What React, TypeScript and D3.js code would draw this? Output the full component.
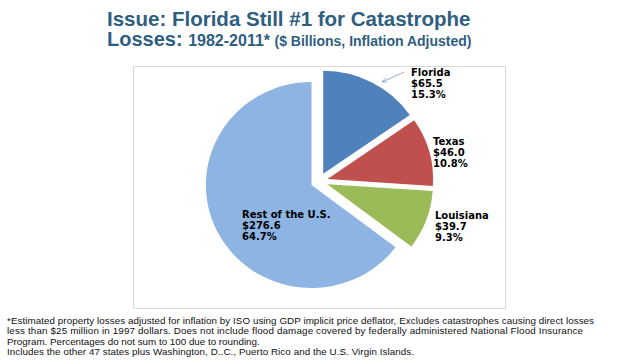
import { useEffect, useRef } from "react";
import * as d3 from "d3";

const states = ["Florida", "Texas", "Louisiana", "Rest of the U.S."];
const losses = [65.5, 46.0, 39.7, 276.6];
const colors = ["#4F81BD", "#C0504D", "#9BBB59", "#8DB4E2"];

const titleLine1 = "Issue: Florida Still #1 for Catastrophe";
const titleLine2 = ["Losses: ", "1982-2011* ", "($ Billions, Inflation Adjusted)"];

const footnotes = [
  "*Estimated property losses adjusted for inflation by ISO using GDP implicit price deflator, Excludes catastrophes causing direct losses",
  "less than $25 million in 1997 dollars. Does not include flood damage covered by federally  administered National Flood Insurance",
  "Program. Percentages do not sum to 100 due to rounding.",
  "Includes the other 47 states plus Washington, D..C., Puerto Rico and the U.S. Virgin Islands.",
];

// layout only
const labelAnchors: [number, number][] = [
  [411, 76],
  [433, 145],
  [435, 219],
  [242, 218],
];
const footWidths = [587, 576, 0, 407];

export default function App() {
  const svgRef = useRef<SVGSVGElement>(null);

  useEffect(() => {
    if (!svgRef.current) return;
    const svg = d3.select(svgRef.current);
    svg.selectAll("*").remove();

    // title
    svg.append("text")
      .attr("x", 107).attr("y", 26)
      .attr("font-family", "Liberation Sans, Arial, sans-serif")
      .attr("font-weight", "bold").attr("font-size", 20.5)
      .attr("fill", "#2E5E80")
      .text(titleLine1);

    const t2 = svg.append("text")
      .attr("x", 107).attr("y", 46)
      .attr("font-family", "Liberation Sans, Arial, sans-serif")
      .attr("font-weight", "bold")
      .attr("fill", "#2E5E80");
    const sizes = [20, 16, 14];
    titleLine2.forEach((s, i) => {
      t2.append("tspan").attr("font-size", sizes[i]).text(s);
    });

    // chart area frame
    svg.append("rect")
      .attr("x", 133.5).attr("y", 66.5)
      .attr("width", 372).attr("height", 242)
      .attr("fill", "#fff").attr("stroke", "#D9D9D9");

    // pie
    const cx = 319.2, cy = 181.3, r = 103;
    const explode = 8.4;
    const pie = d3.pie<number>().sort(null).value((d) => d);
    const arcs = pie(losses);
    const arc = d3.arc<d3.PieArcDatum<number>>().innerRadius(0).outerRadius(r);
    const g = svg.append("g").attr("transform", `translate(${cx},${cy}) scale(1.025,1)`);
    g.selectAll("path")
      .data(arcs)
      .join("path")
      .attr("d", arc)
      .attr("fill", (_d, i) => colors[i])
      .attr("transform", (d) => {
        const m = (d.startAngle + d.endAngle) / 2;
        return `translate(${explode * Math.sin(m)},${-explode * Math.cos(m)})`;
      });

    // labels
    const total = d3.sum(losses);
    const pct = d3.format(".1%");
    const money = d3.format("$.1f");
    states.forEach((name, i) => {
      const [x, y] = labelAnchors[i];
      const t = svg.append("text")
        .attr("font-family", "DejaVu Sans, Verdana, sans-serif")
        .attr("font-weight", "bold").attr("font-size", 10)
        .attr("fill", "#000");
      [name, money(losses[i]), pct(losses[i] / total)].forEach((s, k) => {
        t.append("tspan").attr("x", x).attr("y", y + k * 11).text(s);
      });
    });

    // leader arrow for Florida
    const defs = svg.append("defs");
    defs.append("marker")
      .attr("id", "arr").attr("viewBox", "0 0 10 10")
      .attr("refX", 9).attr("refY", 5)
      .attr("markerWidth", 7).attr("markerHeight", 7)
      .attr("orient", "auto-start-reverse")
      .append("path").attr("d", "M0,1 L9,5 L0,9").attr("fill", "none")
      .attr("stroke", "#7F9BCB").attr("stroke-width", 1.2);
    svg.append("line")
      .attr("x1", 404).attr("y1", 72).attr("x2", 382).attr("y2", 82)
      .attr("stroke", "#7F9BCB").attr("stroke-width", 0.8)
      .attr("marker-end", "url(#arr)");

    // footnotes
    footnotes.forEach((s, i) => {
      const t = svg.append("text")
        .attr("x", 7).attr("y", 324 + i * 10.3)
        .attr("font-family", "Liberation Sans, Arial, sans-serif")
        .attr("font-size", 9.8).attr("fill", "#111")
        .text(s);
      if (footWidths[i]) t.attr("textLength", footWidths[i]).attr("lengthAdjust", "spacing");
    });
  }, []);

  return (
    <svg
      ref={svgRef}
      width={617}
      height={363}
      style={{ position: "absolute", left: 0, top: 0, background: "#fff" }}
    />
  );
}
